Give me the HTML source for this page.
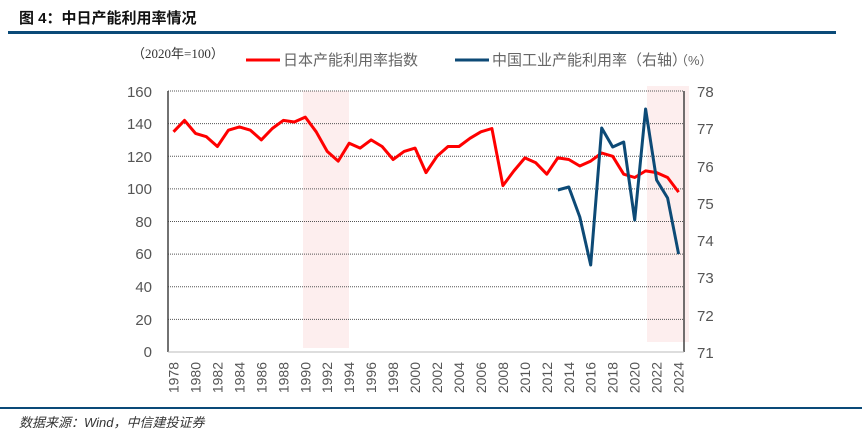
<!DOCTYPE html>
<html><head><meta charset="utf-8"><style>
body{margin:0;background:#fff;width:862px;height:442px;overflow:hidden;font-family:"Liberation Sans","Noto Sans CJK SC",sans-serif}
</style></head><body>
<svg width="862" height="442" xmlns="http://www.w3.org/2000/svg" font-family="Liberation Sans, Noto Sans CJK SC, sans-serif">
<text x="19" y="23" font-size="15" font-weight="bold" fill="#111" font-family="Liberation Sans, Noto Sans CJK SC, sans-serif">图 4：中日产能利用率情况</text>
<rect x="8" y="31" width="828" height="3" fill="#0a4a78"/>
<text x="132" y="58" font-size="13" fill="#333" font-family="Liberation Serif, Noto Sans CJK SC, serif">（2020年=100）</text>
<line x1="246" y1="60" x2="280" y2="60" stroke="#f00" stroke-width="3"/>
<text x="283" y="65" font-size="15" fill="#666">日本产能利用率指数</text>
<line x1="455" y1="60" x2="489" y2="60" stroke="#0d4a76" stroke-width="3"/>
<text x="492" y="65" font-size="15" fill="#666">中国工业产能利用率（右轴）</text>
<text x="675" y="65" font-size="13" fill="#666">（%）</text>
<rect x="303" y="91" width="46" height="257" fill="#fdeeee"/>
<rect x="647" y="86" width="42" height="256" fill="#fdeeee"/>
<g stroke="#555" stroke-width="1" stroke-dasharray="1,1">
<line x1="168" y1="91" x2="684" y2="91"/><line x1="168" y1="123.6" x2="684" y2="123.6"/><line x1="168" y1="156.3" x2="684" y2="156.3"/><line x1="168" y1="188.9" x2="684" y2="188.9"/><line x1="168" y1="221.5" x2="684" y2="221.5"/><line x1="168" y1="254.1" x2="684" y2="254.1"/><line x1="168" y1="286.8" x2="684" y2="286.8"/><line x1="168" y1="319.4" x2="684" y2="319.4"/>
</g>
<line x1="168" y1="91" x2="168" y2="352" stroke="#444" stroke-width="1.5"/>
<line x1="684" y1="91" x2="684" y2="352" stroke="#444" stroke-width="1.5"/>
<line x1="168" y1="352" x2="684" y2="352" stroke="#bbb" stroke-width="1"/>
<g font-size="15" fill="#555" text-anchor="end">
<text x="152" y="97">160</text><text x="152" y="129">140</text><text x="152" y="162">120</text><text x="152" y="194">100</text><text x="152" y="227">80</text><text x="152" y="259">60</text><text x="152" y="292">40</text><text x="152" y="325">20</text><text x="152" y="357">0</text>
</g>
<g font-size="15" fill="#555">
<text x="697" y="97">78</text><text x="697" y="134">77</text><text x="697" y="172">76</text><text x="697" y="209">75</text><text x="697" y="246">74</text><text x="697" y="283">73</text><text x="697" y="321">72</text><text x="697" y="358">71</text>
</g>
<g font-size="14" fill="#555" text-anchor="end">
<text transform="translate(178.5,362) rotate(-90)">1978</text>
<text transform="translate(200.5,362) rotate(-90)">1980</text>
<text transform="translate(222.4,362) rotate(-90)">1982</text>
<text transform="translate(244.4,362) rotate(-90)">1984</text>
<text transform="translate(266.3,362) rotate(-90)">1986</text>
<text transform="translate(288.3,362) rotate(-90)">1988</text>
<text transform="translate(310.3,362) rotate(-90)">1990</text>
<text transform="translate(332.2,362) rotate(-90)">1992</text>
<text transform="translate(354.2,362) rotate(-90)">1994</text>
<text transform="translate(376.1,362) rotate(-90)">1996</text>
<text transform="translate(398.1,362) rotate(-90)">1998</text>
<text transform="translate(420.1,362) rotate(-90)">2000</text>
<text transform="translate(442,362) rotate(-90)">2002</text>
<text transform="translate(464,362) rotate(-90)">2004</text>
<text transform="translate(485.9,362) rotate(-90)">2006</text>
<text transform="translate(507.9,362) rotate(-90)">2008</text>
<text transform="translate(529.9,362) rotate(-90)">2010</text>
<text transform="translate(551.8,362) rotate(-90)">2012</text>
<text transform="translate(573.8,362) rotate(-90)">2014</text>
<text transform="translate(595.7,362) rotate(-90)">2016</text>
<text transform="translate(617.7,362) rotate(-90)">2018</text>
<text transform="translate(639.7,362) rotate(-90)">2020</text>
<text transform="translate(661.6,362) rotate(-90)">2022</text>
<text transform="translate(683.6,362) rotate(-90)">2024</text>
</g>
<polyline fill="none" stroke="#f00" stroke-width="3" stroke-linejoin="round" points="173.5,131.8 184.5,120.4 195.5,133.4 206.4,136.7 217.4,146.5 228.4,130.2 239.4,126.9 250.4,130.2 261.3,139.9 272.3,128.5 283.3,120.4 294.3,122 305.3,117.1 316.2,131.8 327.2,151.4 338.2,161.1 349.2,143.2 360.2,148.1 371.1,139.9 382.1,146.5 393.1,159.5 404.1,151.4 415.1,148.1 426,172.6 437,156.3 448,146.5 459,146.5 470,138.3 480.9,131.8 491.9,128.5 502.9,185.6 513.9,170.9 524.9,157.9 535.8,162.8 546.8,174.2 557.8,157.9 568.8,159.5 579.8,166 590.7,161.1 601.7,153 612.7,156.3 623.7,174.2 634.7,177.5 645.6,170.9 656.6,172.6 667.6,177.5 678.6,192.1"/>
<polyline fill="none" stroke="#0d4a76" stroke-width="3" stroke-linejoin="round" points="557.8,190 568.8,187 579.8,217 590.7,265 601.7,128 612.7,147 623.7,142 634.7,220 645.6,109 656.6,180 667.6,198 678.6,254"/>
<rect x="0" y="407" width="862" height="2" fill="#0a4a78"/>
<text x="19" y="427" font-size="13" font-style="italic" fill="#333">数据来源：Wind，中信建投证券</text>
</svg>
</body></html>
